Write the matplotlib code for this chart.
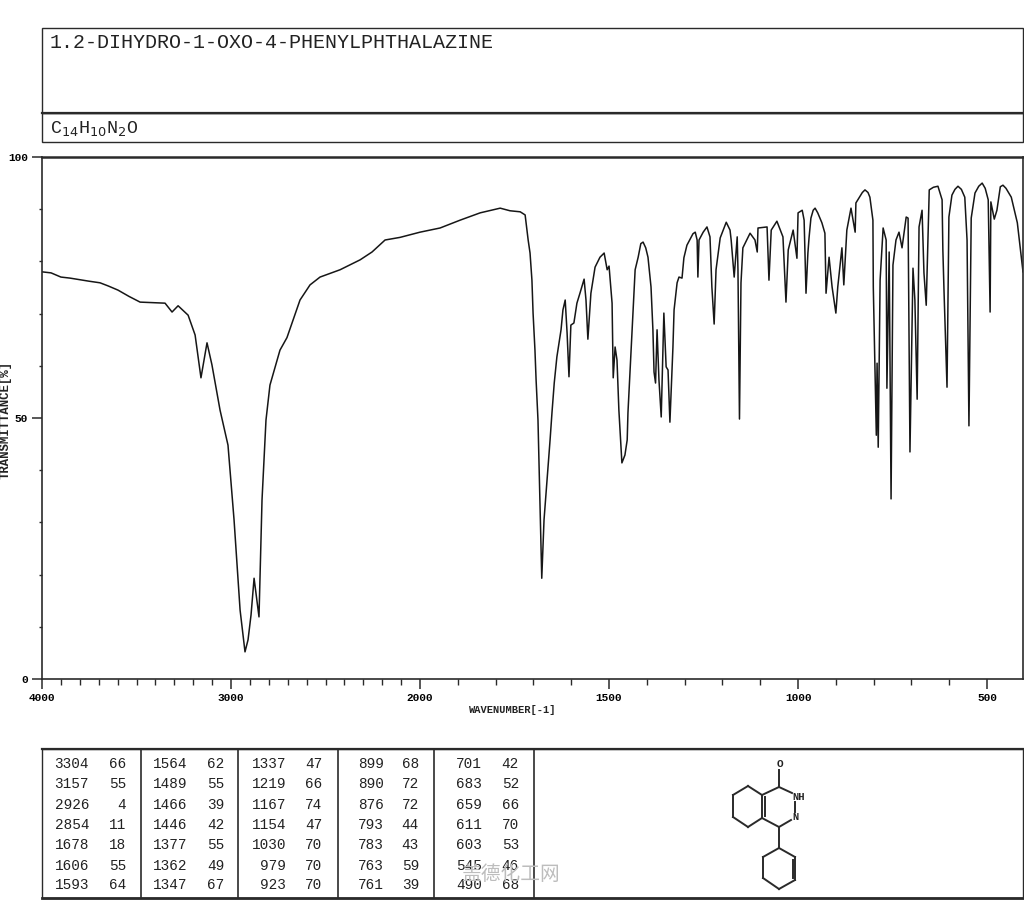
import matplotlib
matplotlib.use("Agg")
import matplotlib.pyplot as plt
from matplotlib.lines import Line2D
from matplotlib.patches import Rectangle
import numpy as np

TITLE = "1.2-DIHYDRO-1-OXO-4-PHENYLPHTHALAZINE"
X_LABEL = "WAVENUMBER[-1]"
Y_LABEL = "TRANSMITTANCE[%]"
X_TICKS = [4000, 3000, 2000, 1500, 1000, 500]
X_MINOR = [3900,3800,3700,3600,3500,3400,3300,3200,3100,2900,2800,2700,2600,2500,2400,2300,2200,2100,
           1900,1800,1700,1600,1400,1300,1200,1100,900,800,700,600]
Y_TICKS = [0, 50, 100]
Y_MINOR = [10, 20, 30, 40, 60, 70, 80, 90]

wavenumber = [4000,3952,3900,3852,3750,3693,3650,3598,3540,3481,3349,3312,3280,3227,3190,3159,3127,3101,3058,3016,2984,2952,2926,2910,2894,2878,2852,2836,2815,2794,2741,2635,2529,2423,2317,2254,2185,2106,2053,2000,
 1947,1894,1841,1788,1762,1735,1722,1714,1709,1704,1701,1696,1693,1688,1683,1678,1672,1656,1651,1645,1638,1627,1622,1616,1611,1606,1601,1593,1585,1577,1566,1561,1556,1548,1537,1524,1513,1505,1500,1492,1489,1484,1479,1474,1466,1458,1452,1450,1442,1431,1423,1410,1397,1389,1384,1381,1377,1373,1368,1362,1355,1349,1344,1339,1331,1328,1320,1315,1307,1302,1294,1272,1267,1265,1262,1251,1241,1233,1228,1222,1217,1206,1190,1180,1177,1169,1161,1159,1155,1151,1146,1127,1114,1108,1106,1082,1077,1071,1056,1040,1032,1026,1013,1003,1000,989,984,979,974,971,966,955,937,929,926,918,910,900,895,884,879,871,860,849,847,823,810,802,801,793,791,788,783,775,767,765,759,754,749,741,733,725,714,709,704,696,691,685,680,672,667,661,653,630,619,617,614,606,601,593,577,559,553,548,542,532,513,497,492,490,481,474,458,436,420,407,405]
transmittance = [78,77.8,77,76.8,76.2,75.9,75.3,74.5,73.3,72.2,72,70.3,71.5,69.7,65.9,57.7,64.4,60.2,51.5,44.8,30.5,13.2,5.2,7.5,12.3,19.3,11.9,34.3,49.6,56.3,63,72.6,77,78.4,80.3,81.8,84.1,84.6,85.1,85.6,
 86.4,87.9,89.3,90.2,89.7,89.5,88.9,84.1,81.6,76.4,70.1,63,57.3,49.6,34.3,19.3,30.5,45.8,51,56.7,61.7,66.9,70.7,72.6,66.3,57.9,67.8,68.2,72,73.9,76.6,72.6,65.1,73.9,78.9,80.8,81.6,78.4,79.1,72,57.7,63.6,61.1,51.5,41.4,42.9,45.8,51,62.5,78.4,80.8,83.7,80.8,75.1,66.9,58.8,56.7,66.9,57.3,50.2,70.1,59.8,59.2,49.2,63.6,70.7,75.9,77,76.8,80.7,83.1,85.6,84.1,77,84.1,85.6,86.6,84.7,75.1,68,78.4,84.5,87.5,86,84.1,77,84.7,78.4,49.8,75.9,82.6,85.4,84.1,81.8,86.4,86.6,76.4,86,87.7,84.7,72.2,82.2,86,80.6,89.3,89.8,87.9,73.9,81.6,84.5,88.3,90.2,87.4,85.4,73.9,80.8,75.1,70.1,75.1,82.6,75.5,86,90.2,85.6,91.2,93.7,92.3,87.9,75.1,46.7,60.5,44.4,76.4,86.4,84.1,55.7,81.8,34.5,79.3,84.1,85.6,82.6,88.5,88.3,43.5,78.7,72.6,53.6,86.6,89.8,77.8,71.6,93.7,94.4,91.8,82.2,74.5,55.9,88.5,92.7,94.4,92.3,84.1,48.5,88.3,93.1,95,91.8,70.3,91.4,88.1,89.8,94.6,92.3,87.4,79.3,78]

# further readings on the band shoulders and rounded tops
extra_wavenumber = [2704,2582,1416,1403,1278,960,948,830,815,642,585,568,522,505,465,450]
extra_transmittance = [65.4,75.5,83.4,82.6,85.3,89.8,89.3,93.2,93.2,94.2,93.8,93.8,94.4,94,94.3,94]

table_wn = [["3304","3157","2926","2854","1678","1606","1593"],
            ["1564","1489","1466","1446","1377","1362","1347"],
            ["1337","1219","1167","1154","1030","979","923"],
            ["899","890","876","793","783","763","761"],
            ["701","683","659","611","603","545","490"]]
table_t = [["66","55","4","11","18","55","64"],
           ["62","55","39","42","55","49","67"],
           ["47","66","74","47","70","70","70"],
           ["68","72","72","44","43","59","39"],
           ["42","52","66","70","53","46","68"]]

FONT = ["Liberation Mono", "DejaVu Sans Mono"]
W, H = 1024, 900
INK = "#2a2a2a"
fig = plt.figure(figsize=(W/100, H/100), dpi=100, facecolor="white")

def fx(p): return p / W
def fy(p): return 1 - p / H
def box(x0, y0, x1, y1, lw=1.0):
    fig.add_artist(Rectangle((fx(x0), fy(y1)), (x1-x0)/W, (y1-y0)/H, transform=fig.transFigure,
                             fill=False, edgecolor=INK, linewidth=lw))
def seg(xs, ys, lw=1.2):
    fig.add_artist(Line2D([fx(v) for v in xs], [fy(v) for v in ys], color=INK, linewidth=lw))
def txt(x, y, s, size, ha="left", **kw):
    fig.text(fx(x), fy(y), s, fontsize=size, ha=ha, va="center", family=FONT, color="#222222", **kw)

# header boxes
box(42, 28, 1023, 113)
box(42, 113, 1023, 142)
seg([42, 1023], [113, 113], 1.6)
txt(50, 43, TITLE, 14.4)
txt(50, 129, r"C$_{14}$H$_{10}$N$_{2}$O", 13.2)

# spectrum with the scale break at 2000 cm-1
def fwd(v):
    v = np.asarray(v, dtype=float)
    return np.where(v >= 2000, 2000 + (v - 2000) * 0.5, v)
def inv(v):
    v = np.asarray(v, dtype=float)
    return np.where(v >= 2000, 2000 + (v - 2000) * 2.0, v)

all_wn = np.array(wavenumber + extra_wavenumber, dtype=float)
all_t = np.array(transmittance + extra_transmittance, dtype=float)
order = np.argsort(-all_wn)

ax = fig.add_axes([fx(42), fy(679), (1023-42)/W, (679-157)/H])
ax.set_xscale("function", functions=(fwd, inv))
ax.plot(all_wn[order], all_t[order], color="#161616", linewidth=1.1)
ax.set_xlim(4000, 405)
ax.set_ylim(0, 100)
ax.set_xticks(X_TICKS)
ax.set_xticklabels([str(v) for v in X_TICKS], family=FONT, fontsize=8, fontweight="bold")
ax.set_xticks(X_MINOR, minor=True)
ax.set_yticks(Y_TICKS)
ax.set_yticklabels([str(v) for v in Y_TICKS], family=FONT, fontsize=8, fontweight="bold")
ax.set_yticks(Y_MINOR, minor=True)
ax.tick_params(axis="both", which="major", length=7, width=1.1, pad=3, color=INK)
ax.tick_params(axis="x", which="minor", length=4, width=1.0, color=INK)
ax.tick_params(axis="y", which="minor", length=2, width=1.0, color=INK)
for s in ax.spines.values():
    s.set_color(INK); s.set_linewidth(1.2)
ax.spines["top"].set_linewidth(1.8)
ax.spines["bottom"].set_linewidth(1.2)

txt(513, 710, X_LABEL, 7.5, ha="center", fontweight="bold")
fig.text(fx(6), fy(420), Y_LABEL, fontsize=8.9, rotation=90, ha="center", va="center",
         family=FONT, fontweight="bold", color="#222222")

# peak table
box(42, 749, 1023, 898)
seg([42, 1023], [749, 749], 1.6)
seg([42, 1023], [898, 898], 2.0)
for v in [141, 238, 338, 434, 534]:
    seg([v, v], [749, 898], 1.2)
col_wn = [89, 187, 286, 384, 482]
col_t = [126, 224, 322, 419, 519]
rows = [764, 784, 805, 825, 845, 866, 885]
for c in range(5):
    for r in range(7):
        txt(col_wn[c], rows[r], table_wn[c][r], 10.4, ha="right")
        txt(col_t[c], rows[r], table_t[c][r], 10.4, ha="right")

# structure sketch
bonds = [((779,770),(779,787)),
         ((779,787),(762,795)),((779,787),(792,793)),((795,802),(795,812)),
         ((791,820),(779,827)),((779,827),(762,818)),((762,795),(762,818)),((764.5,797),(764.5,816)),
         ((762,795),(748,786)),((748,786),(733,795)),((733,795),(733,817)),((733,817),(748,827)),((748,827),(762,818)),
         ((779,827),(779,848)),((779,848),(763,857)),((763,857),(763,878)),((763,878),(779,889)),
         ((779,889),(795,880)),((795,880),(795,857)),((795,857),(779,848)),((792.5,860),(792.5,878))]
for a, b in bonds:
    seg([a[0], b[0]], [a[1], b[1]], 1.4)
txt(780, 764, "O", 8, ha="center", fontweight="bold")
txt(792, 797, "NH", 7.5, ha="left", fontweight="bold")
txt(792, 817, "N", 7.5, ha="left", fontweight="bold")

# watermark
fig.text(fx(511), fy(874), "盖德化工网", fontsize=14.2, ha="center", va="center",
         family=["Noto Sans CJK SC", "DejaVu Sans"], color="#bdbdbd")

fig.savefig("out.png", dpi=100)
